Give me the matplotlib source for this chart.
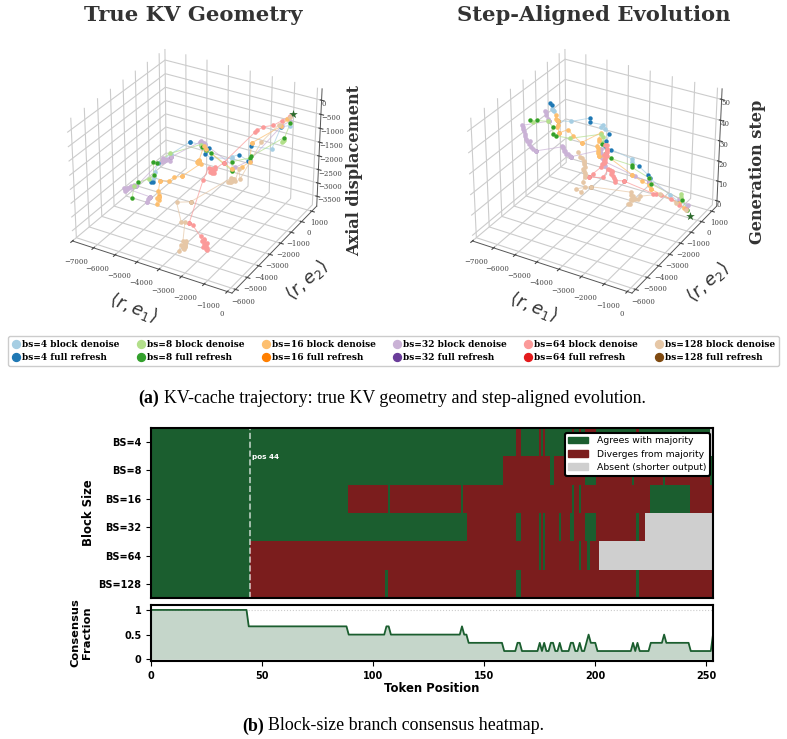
import matplotlib
matplotlib.use("Agg")
import matplotlib.pyplot as plt
from matplotlib.colors import ListedColormap
from matplotlib.lines import Line2D
from matplotlib.patches import Patch
import numpy as np

# KV trajectories per block size: in-plane coords, axial displacement, generation step
x_bs4 = [-300, -550, -870, -1850, -1890, -2490, -2630, -2690, -3410, -3570, -3640, -3680, -4040, -4400, -4500, -4850, -5160, -5350, -5330, -5280]
y_bs4 = [380, 70, -80, 0, -90, 230, -110, 20, -510, -670, -450, -110, -10, -430, -240, -1260, -1810, -1780, -1970, -2220]
axial_bs4 = [-590, -580, -1400, -1520, -2050, -2070, -2050, -2180, -2120, -1970, -1960, -1960, -1970, -1800, -1870, -2030, -2250, -2620, -2930, -2810]
step_bs4 = [2, 5, 8, 13, 15, 16, 19, 20, 25, 27, 28, 30, 33, 35, 36, 38, 40, 44, 48, 50]
refresh_bs4 = [1, 3, 4, 5, 8, 9, 10, 11, 13, 14, 16, 18, 19]

x_bs8 = [-170, -560, -300, -1690, -1810, -2590, -2510, -3140, -3320, -3430, -3420, -3710, -4430, -4830, -4930, -4970, -5190, -5330, -5220, -5170]
y_bs8 = [120, 320, -160, -250, -150, -180, -330, -1040, -1060, -930, -1250, -810, -2100, -2520, -2620, -2530, -2550, -3190, -3700, -3960]
axial_bs8 = [-380, -1190, -830, -1780, -1900, -2200, -2460, -1700, -1620, -1700, -1470, -1600, -1620, -1910, -1860, -2380, -2560, -2480, -2380, -2720]
step_bs8 = [2, 6, 8, 12, 14, 17, 19, 24, 26, 29, 31, 33, 35, 37, 38, 41, 43, 46, 48, 50]
refresh_bs8 = [0, 2, 3, 4, 5, 6, 7, 8, 10, 13, 14, 15, 17, 19]

x_bs16 = [-280, -420, -1640, -1690, -1940, -2390, -3760, -3610, -3640, -3730, -3780, -3750, -3770, -3860, -4250, -4510, -4590, -4640, -4570, -4560, -4540]
y_bs16 = [30, -180, -350, -370, -570, -570, -270, -720, -1120, -1030, -980, -860, -700, -2180, -2160, -2100, -2700, -2750, -2800, -3000, -3060]
axial_bs16 = [-250, -440, -1250, -1940, -2100, -2290, -1980, -1650, -2070, -2110, -2200, -2150, -2350, -2300, -2430, -2630, -2460, -2820, -3000, -2940, -3150]
step_bs16 = [3, 6, 10, 12, 14, 16, 20, 22, 24, 26, 28, 31, 33, 35, 37, 39, 40, 43, 46, 48, 50]
refresh_bs16 = [2, 5, 8, 13, 16, 18]

x_bs32 = [-260, -630, -1740, -2290, -3730, -3800, -3920, -4000, -4590, -4800, -4910, -5030, -5520, -5670, -5880, -5960, -6030, -6070, -5080, -5140, -5070]
y_bs32 = [310, 300, -280, -480, -480, -430, -390, -330, -1790, -1820, -1770, -1660, -3010, -3110, -3080, -3040, -3020, -3070, -2680, -2750, -2950]
axial_bs32 = [-400, -640, -1930, -2230, -1690, -1690, -1840, -1740, -1910, -2030, -2140, -2120, -2730, -2750, -2850, -2930, -2990, -2900, -3150, -3230, -3250]
step_bs32 = [3, 5, 13, 15, 18, 20, 21, 22, 24, 25, 26, 27, 30, 32, 34, 36, 38, 41, 44, 47, 50]
refresh_bs32 = [2, 8, 12, 18]

x_bs64 = [-210, -480, -860, -1180, -1340, -1380, -2590, -2750, -2850, -2860, -2960, -2730, -3130, -2980, -2320, -2090, -1950, -1750, -1700, -1660]
y_bs64 = [110, -10, -10, -280, -460, -620, -930, -1380, -1380, -1450, -1560, -2460, -2910, -2880, -3450, -3740, -3890, -4030, -4080, -4220]
axial_bs64 = [-140, -320, -570, -600, -690, -720, -1960, -2070, -2150, -2200, -2010, -2060, -3560, -3620, -3630, -3630, -3470, -3520, -3630, -3620]
step_bs64 = [2, 4, 6, 8, 9, 10, 14, 16, 18, 20, 22, 23, 24, 26, 34, 38, 41, 44, 47, 50]
refresh_bs64 = [6, 12]

x_bs128 = [-190, -580, -1200, -1600, -1480, -1530, -1520, -1430, -1510, -1630, -2880, -3120, -2670, -2580, -2600, -2560, -2560, -2480, -2420, -2310]
y_bs128 = [60, -100, -370, -1410, -1790, -2000, -2320, -2810, -2250, -2200, -3240, -3970, -4420, -4280, -4410, -4320, -4320, -4540, -4920, -5270]
axial_bs128 = [-170, -460, -1120, -2150, -1640, -1980, -1860, -1690, -1830, -1840, -2590, -2380, -2810, -2850, -3480, -3630, -3730, -3540, -3360, -3410]
step_bs128 = [2, 5, 9, 12, 13, 14, 15, 16, 17, 18, 22, 24, 26, 28, 31, 34, 38, 42, 46, 50]
refresh_bs128 = [10]

# further denoise samples inside the slow-moving stretches
more_x = [
    [-4100, -3950, -5300, -5340],
    [-500, -620, -3600, -3560],
    [-3680, -3760, -3770, -4600, -4550],
    [-3760, -3850, -3950, -3700, -4700, -4860, -4970, -5000, -4640, -5600, -5760, -5920, -6000, -6050, -6060, -5800, -5100, -5120],
    [-2000, -1850, -1780, -1720, -1680, -1900, -1950, -1800, -2800, -2900, -2830, -2950, -2780],
    [-2570, -2550, -2520, -2450, -2600, -2500, -2540, -1550, -1500, -1580, -1450],
]
more_y = [
    [-50, 40, -2000, -1880],
    [250, 380, -850, -900],
    [-1080, -1000, -900, -2770, -2900],
    [-460, -400, -350, -500, -1800, -1800, -1700, -1760, -1780, -3050, -3100, -3060, -3030, -3040, -3050, -3000, -2700, -2830],
    [-3800, -3960, -4000, -4050, -4150, -3850, -3900, -4100, -1400, -1420, -1500, -1480, -1340],
    [-4300, -4350, -4420, -4700, -4380, -4500, -4300, -2100, -2400, -2250, -2600],
]
more_axial = [
    [-1980, -1950, -2850, -2780],
    [-1100, -1240, -1650, -1580],
    [-2130, -2150, -2260, -2950, -3050],
    [-1660, -1780, -1700, -1720, -1980, -2080, -2060, -2200, -2060, -2700, -2800, -2880, -2960, -2950, -3020, -2780, -3190, -3280],
    [-3550, -3580, -3680, -3480, -3700, -3700, -3760, -3500, -2220, -2100, -2030, -2190, -2000],
    [-3580, -3680, -3620, -3500, -3760, -3700, -3500, -1900, -1780, -1950, -1780],
]
more_step = [
    [32, 31, 46, 45],
    [5, 7, 32, 30],
    [25, 27, 30, 44, 47],
    [17, 19, 23, 16, 25, 26, 27, 28, 24, 31, 33, 35, 37, 39, 40, 34, 45, 49],
    [39, 42, 45, 46, 48, 40, 43, 49, 17, 19, 21, 21, 15],
    [33, 36, 40, 44, 37, 41, 35, 15, 16, 17, 15],
]

# shared start of every trajectory in the e1/e2 plane
start_x, start_y = -230, -230

block_sizes = [4, 8, 16, 32, 64, 128]
pale_colors = ["#a6cee3", "#b2df8a", "#fdbf6f", "#cab2d6", "#fb9a99", "#e6c7a6"]
dark_colors = ["#1f78b4", "#33a02c", "#ff7f00", "#6a3d9a", "#e31a1c", "#7f4a10"]
all_x = [x_bs4, x_bs8, x_bs16, x_bs32, x_bs64, x_bs128]
all_y = [y_bs4, y_bs8, y_bs16, y_bs32, y_bs64, y_bs128]
all_axial = [axial_bs4, axial_bs8, axial_bs16, axial_bs32, axial_bs64, axial_bs128]
all_step = [step_bs4, step_bs8, step_bs16, step_bs32, step_bs64, step_bs128]
all_refresh = [refresh_bs4, refresh_bs8, refresh_bs16, refresh_bs32, refresh_bs64, refresh_bs128]

# heatmap rows: half-open index spans
row_labels = ["BS=4", "BS=8", "BS=16", "BS=32", "BS=64", "BS=128"]
n_tokens = 253
diverge_spans = [
    [(164, 166), (174, 175), (176, 177), (189, 190), (192, 193), (195, 200), (218, 219)],
    [(158, 179), (181, 195), (200, 216), (217, 230), (231, 251)],
    [(88, 106), (107, 139), (140, 189), (190, 192), (193, 224), (242, 253)],
    [(142, 164), (166, 174), (175, 176), (177, 183), (184, 188), (190, 195), (200, 218), (219, 222)],
    [(44, 174), (175, 176), (177, 192), (193, 196), (197, 201)],
    [(44, 105), (106, 164), (166, 218), (219, 252)],
]
absent_spans = [[(251, 253)], [], [], [(222, 253)], [(201, 253)], []]

# consensus fraction polyline
cons_pos = [0, 43, 44, 88, 89, 105, 106, 107, 108, 139, 140, 141, 142, 143, 158, 159, 164, 165, 166, 167, 173, 174, 175, 176, 177, 178, 179,
            180, 181, 182, 183, 184, 185, 188, 189, 190, 191, 192, 193, 194, 195, 196, 197, 198, 200, 201, 215, 216, 217, 218, 219, 220, 223,
            224, 225, 230, 231, 232, 242, 243, 252, 253]
cons_val = [1, 1, 0.667, 0.667, 0.5, 0.5, 0.667, 0.667, 0.5, 0.5, 0.667, 0.5, 0.5, 0.333, 0.333, 0.167, 0.167, 0.333, 0.333, 0.167, 0.167, 0.167, 0.333, 0.167, 0.333, 0.167, 0.167,
            0.333, 0.333, 0.167, 0.167, 0.333, 0.167, 0.167, 0.333, 0.333, 0.167, 0.167, 0.333, 0.167, 0.167, 0.333, 0.5, 0.333, 0.333, 0.167, 0.167, 0.167, 0.333, 0.167, 0.333, 0.167, 0.167,
            0.167, 0.333, 0.333, 0.5, 0.333, 0.333, 0.167, 0.167, 0.5]

W, H = 787, 739
fig = plt.figure(figsize=(W / 100, H / 100), dpi=100)


def box(left, top, right, bottom):
    return [left / W, 1 - bottom / H, (right - left) / W, (bottom - top) / H]


def style_3d(ax):
    ax.set_xlim(-7000, 200)
    ax.set_ylim(-6300, 1500)
    ax.set_xticks(np.arange(-7000, 1, 1000))
    ax.set_yticks(np.arange(-6000, 1001, 1000))
    for axis in (ax.xaxis, ax.yaxis, ax.zaxis):
        axis.set_pane_color((1, 1, 1, 0))
        axis.pane.set_edgecolor("#dddddd")
        axis._axinfo["grid"].update(color="#cccccc", linewidth=0.8)
        axis.line.set_color("#555555")
        axis.line.set_linewidth(0.7)
    ax.tick_params(labelsize=5, colors="#444444", length=2)
    ax.xaxis.set_tick_params(pad=1)
    ax.yaxis.set_tick_params(pad=-3)
    ax.zaxis.set_tick_params(pad=-8)
    for lab in ax.get_xticklabels() + ax.get_yticklabels() + ax.get_zticklabels():
        lab.set_family("DejaVu Serif")
    for lab in ax.get_xticklabels() + ax.get_zticklabels():
        lab.set_ha("left")
    for lab in ax.get_yticklabels():
        lab.set_va("top")


def draw_paths(ax, heights, extra_heights):
    for i in range(6):
        xs = np.array(all_x[i]) + start_x
        ys = np.array(all_y[i]) + start_y
        zs = np.array(heights[i])
        ref = all_refresh[i]
        ax.plot(xs, ys, zs, color=pale_colors[i], lw=0.7, alpha=0.7)
        ax.scatter(xs, ys, zs, color=pale_colors[i], s=11, depthshade=False, linewidths=0)
        ax.scatter(np.array(more_x[i]) + start_x, np.array(more_y[i]) + start_y, extra_heights[i],
                   color=pale_colors[i], s=11, depthshade=False, linewidths=0)
        ax.scatter(xs[ref], ys[ref], zs[ref], color=dark_colors[i], s=9, depthshade=False, linewidths=0)
    ax.scatter([start_x], [start_y], [0], marker="*", color="#2e6b2e", s=42, depthshade=False, linewidths=0)


ax1 = fig.add_axes(box(51, 27, 335, 311), projection="3d")
draw_paths(ax1, all_axial, more_axial)
ax1.set_zlim(-3870, 400)
ax1.set_zticks(np.arange(-3500, 1, 500))
style_3d(ax1)

ax2 = fig.add_axes(box(451, 27, 735, 311), projection="3d")
draw_paths(ax2, all_step, more_step)
ax2.set_zlim(-2.7, 55)
ax2.set_zticks(np.arange(0, 51, 10))
style_3d(ax2)

# panel titles and axis labels
serif = "DejaVu Serif"
fig.text(193 / W, 1 - 15 / H, "True KV Geometry", family=serif, weight="bold", fontsize=15.2, color="#333333", ha="center", va="center")
fig.text(594 / W, 1 - 15 / H, "Step-Aligned Evolution", family=serif, weight="bold", fontsize=15.2, color="#333333", ha="center", va="center")
fig.text(355 / W, 1 - 171 / H, "Axial displacement", family=serif, weight="bold", fontsize=11.6, color="#333333", rotation=90, ha="center", va="center")
fig.text(757 / W, 1 - 172 / H, "Generation step", family=serif, weight="bold", fontsize=11.6, color="#333333", rotation=90, ha="center", va="center")
for xl, yl in [((133, 308), (307, 280)), ((533, 307), (708, 282))]:
    fig.text(xl[0] / W, 1 - xl[1] / H, r"$\langle r, e_1\rangle$", fontsize=13, color="#333333", rotation=-22, ha="center", va="center")
    fig.text(yl[0] / W, 1 - yl[1] / H, r"$\langle r, e_2\rangle$", fontsize=13, color="#333333", rotation=42, ha="center", va="center")

# shared legend under the 3d panels
handles = []
for i, bs in enumerate(block_sizes):
    handles.append(Line2D([], [], ls="", marker="o", ms=5.7, color=pale_colors[i], label=f"bs={bs} block denoise"))
    handles.append(Line2D([], [], ls="", marker="o", ms=5.7, color=dark_colors[i], label=f"bs={bs} full refresh"))
fig.legend(handles=handles, ncol=6, loc="center", bbox_to_anchor=(393.5 / W, 1 - 351 / H),
           prop={"family": serif, "weight": "bold", "size": 6.45}, handletextpad=0.2, columnspacing=1.85,
           labelspacing=0.45, borderpad=0.4, handlelength=1.0, frameon=True, edgecolor="#cccccc", framealpha=1)

# captions
cap = "Liberation Serif"
fig.text(138 / W, 1 - 398.5 / H, "(a)", family=cap, weight="bold", fontsize=12.85, va="center")
fig.text(164 / W, 1 - 398.5 / H, "KV-cache trajectory: true KV geometry and step-aligned evolution.", family=cap, fontsize=12.85, va="center")
fig.text(242 / W, 1 - 726 / H, "(b)", family=cap, weight="bold", fontsize=12.85, va="center")
fig.text(268 / W, 1 - 726 / H, "Block-size branch consensus heatmap.", family=cap, fontsize=12.85, va="center")

# branch heatmap: 0 agrees, 1 diverges, 2 absent
matrix = np.zeros((6, n_tokens))
for r in range(6):
    for a, b in diverge_spans[r]:
        matrix[r, a:b] = 1
    for a, b in absent_spans[r]:
        matrix[r, a:b] = 2
green, red, grey = "#1b5e2f", "#7b1d1d", "#cfcfcf"
heat = fig.add_axes(box(151, 428, 713, 598))
heat.imshow(matrix, cmap=ListedColormap([green, red, grey]), vmin=0, vmax=2, aspect="auto",
            interpolation="nearest", extent=(0.5, n_tokens + 0.5, 5.5, -0.5))
heat.set_xlim(0, n_tokens)
heat.set_xticks([])
heat.set_yticks(range(6))
heat.set_yticklabels(row_labels, fontsize=7, weight="bold", family="DejaVu Sans")
heat.set_ylabel("Block Size", fontsize=8.4, weight="bold", family="DejaVu Sans")
heat.yaxis.set_label_coords(-0.1, 0.5)
heat.axvline(44.5, color="white", ls="--", lw=1.2, alpha=0.7)
heat.text(45.5, 0.54, "pos 44", color="white", fontsize=5.2, weight="bold", va="center", family="DejaVu Sans")
leg = heat.legend(handles=[Patch(color=green, label="Agrees with majority"), Patch(color=red, label="Diverges from majority"),
                           Patch(color=grey, label="Absent (shorter output)")],
                  loc="upper right", prop={"family": "DejaVu Sans", "size": 6.7}, framealpha=1, edgecolor="black", fancybox=True,
                  bbox_to_anchor=(0.9945, 0.972), borderaxespad=0, labelspacing=0.45, handlelength=2.15, handletextpad=0.9)
leg.get_frame().set_linewidth(1.5)

cons = fig.add_axes(box(151, 605, 713, 661))
cons.axhline(1, color="#cccccc", ls=":", lw=0.8)
cons.fill_between(cons_pos, cons_val, color="#1b5e2f", alpha=0.25, lw=0)
cons.plot(cons_pos, cons_val, color="#1b5e2f", lw=1.3)
cons.set_xlim(0, n_tokens)
cons.set_ylim(-0.035, 1.1)
cons.set_yticks([0, 0.5, 1])
cons.set_yticklabels(["0", "0.5", "1"], fontsize=7, weight="bold", family="DejaVu Sans")
cons.set_xticks([0, 50, 100, 150, 200, 250])
cons.set_xticklabels(["0", "50", "100", "150", "200", "250"], fontsize=7, weight="bold", family="DejaVu Sans")
cons.set_xlabel("Token Position", fontsize=8.4, weight="bold", labelpad=1, family="DejaVu Sans")
cons.set_ylabel("Consensus\nFraction", fontsize=8.2, weight="bold", family="DejaVu Sans")
cons.yaxis.set_label_coords(-0.105, 0.5)
for ax in (heat, cons):
    for s in ax.spines.values():
        s.set_linewidth(1.5)

fig.savefig("out.png", dpi=100)
